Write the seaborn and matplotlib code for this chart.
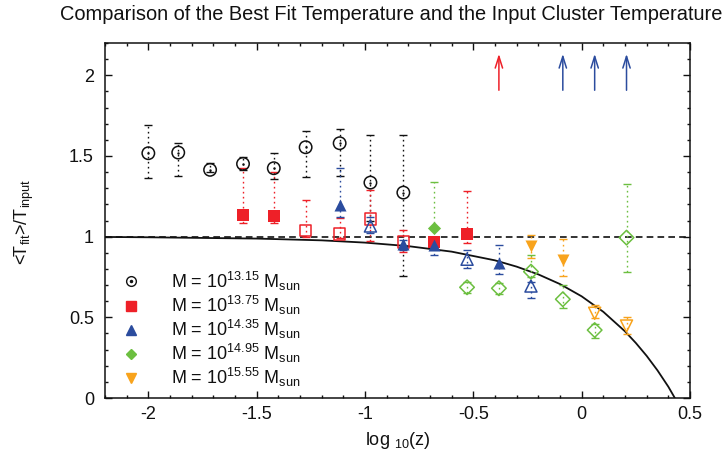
import numpy as np
import pandas as pd
import matplotlib
matplotlib.use("Agg")
import matplotlib.pyplot as plt
import seaborn as sns
from matplotlib.lines import Line2D
from matplotlib.ticker import MultipleLocator, FixedLocator, FixedFormatter

# ---------------- data ----------------
m1315_x = [-2.0, -1.862, -1.715, -1.563, -1.421, -1.274, -1.117, -0.975, -0.823]
m1315_y = [1.517, 1.521, 1.414, 1.451, 1.424, 1.554, 1.579, 1.335, 1.273]
m1315_lo = [1.366, 1.378, 1.400, 1.410, 1.355, 1.372, 1.376, 1.100, 0.755]
m1315_hi = [1.692, 1.579, 1.455, 1.496, 1.517, 1.657, 1.668, 1.632, 1.630]

m1375_x = [-1.563, -1.421, -1.274, -1.117, -0.975, -0.823, -0.680, -0.529]
m1375_y = [1.135, 1.128, 1.037, 1.018, 1.108, 0.965, 0.969, 1.015]
m1375_lo = [1.087, 1.087, 0.998, 0.990, 0.975, 0.907, 0.950, 0.960]
m1375_hi = [1.426, 1.400, 1.230, 1.118, 1.290, 1.040, 0.990, 1.285]
m1375_filled = [True, True, False, False, False, False, True, True]

m1435_x = [-1.117, -0.975, -0.823, -0.680, -0.529, -0.382, -0.234]
m1435_y = [1.196, 1.066, 0.955, 0.948, 0.860, 0.839, 0.694]
m1435_lo = [1.120, 1.025, 0.920, 0.887, 0.804, 0.769, 0.618]
m1435_hi = [1.428, 1.120, 0.980, 0.990, 0.918, 0.948, 0.720]
m1435_filled = [True, False, True, True, False, True, False]

m1495_x = [-0.680, -0.529, -0.382, -0.234, -0.087, 0.060, 0.207]
m1495_y = [1.052, 0.686, 0.680, 0.783, 0.612, 0.421, 0.994]
m1495_lo = [0.990, 0.653, 0.645, 0.752, 0.556, 0.370, 0.783]
m1495_hi = [1.341, 0.721, 0.711, 0.887, 0.700, 0.459, 1.327]
m1495_filled = [True, False, False, False, False, False, False]

m1555_x = [-0.234, -0.087, 0.060, 0.207]
m1555_y = [0.942, 0.855, 0.525, 0.446]
m1555_lo = [0.866, 0.756, 0.494, 0.397]
m1555_hi = [1.010, 0.984, 0.577, 0.504]
m1555_filled = [True, True, False, False]

# model curve
curve_x = [-2.2, -2.0, -1.5, -1.2, -1.0, -0.8, -0.6, -0.4, -0.3, -0.2, -0.1,
           0.0, 0.1, 0.2, 0.25, 0.3, 0.35, 0.4, 0.43]
curve_y = [0.998, 0.996, 0.988, 0.977, 0.963, 0.941, 0.907, 0.853, 0.814, 0.766, 0.706,
           0.630, 0.534, 0.413, 0.341, 0.261, 0.171, 0.070, 0.0]

red_arrow_x = [-0.382]
blue_arrow_x = [-0.087, 0.060, 0.207]
arrow_y0, arrow_y1 = 1.89, 2.15

legend_labels = [r"M = 10$^{13.15}$ M$_{\rm sun}$",
                 r"M = 10$^{13.75}$ M$_{\rm sun}$",
                 r"M = 10$^{14.35}$ M$_{\rm sun}$",
                 r"M = 10$^{14.95}$ M$_{\rm sun}$",
                 r"M = 10$^{15.55}$ M$_{\rm sun}$"]

xtick_vals = [-2, -1.5, -1, -0.5, 0, 0.5]
xtick_labels = ["-2", "-1.5", "-1", "-0.5", "0", "0.5"]
ytick_vals = [0, 0.5, 1, 1.5, 2]
ytick_labels = ["0", "0.5", "1", "1.5", "2"]

title = "Comparison of the Best Fit Temperature and the Input Cluster Temperature"

# ---------------- style ----------------
sns.set_theme(style="ticks")
plt.rcParams.update({
    "font.family": ["Liberation Sans", "DejaVu Sans"],
    "mathtext.fontset": "custom",
    "mathtext.rm": "Liberation Sans",
    "mathtext.it": "Liberation Sans:italic",
    "mathtext.bf": "Liberation Sans:bold",
    "mathtext.default": "regular",
    "axes.unicode_minus": False,
})

BLACK = "#111111"
RED = "#ee2028"
BLUE = "#2b4c9e"
GREEN = "#6cbf40"
ORANGE = "#f8a31c"

fig = plt.figure(figsize=(7.24, 4.65), dpi=100)
ax = fig.add_axes([105/724, 1-398/465, 585/724, 355/465])


def draw(x, y, lo, hi, filled, marker, color, size, open_size=None):
    x = np.asarray(x, float); y = np.asarray(y, float)
    lo = np.asarray(lo, float); hi = np.asarray(hi, float)
    filled = np.asarray(filled, bool)
    eb = ax.errorbar(x, y, yerr=[y - lo, hi - y], fmt="none", ecolor=color,
                     elinewidth=1.0, capsize=3, capthick=1.0, zorder=2)
    for lc in eb[2]:
        lc.set_linestyle((0, (1.2, 2.4)))
    df = pd.DataFrame({"x": x, "y": y, "filled": filled})
    if filled.any():
        sns.scatterplot(data=df[df["filled"]], x="x", y="y", marker=marker, color=color,
                        edgecolor=color, linewidth=0, s=size, ax=ax, legend=False, zorder=4)
    if (~filled).any():
        sns.scatterplot(data=df[~df["filled"]], x="x", y="y", marker=marker, color=color,
                        facecolor="none", edgecolor=color, linewidth=1.1,
                        s=open_size or size, ax=ax, legend=False, zorder=4)


# dashed reference line and model curve
ax.axhline(1.0, color=BLACK, lw=1.2, ls=(0, (4, 2.5)), zorder=1)
sns.lineplot(x=curve_x, y=curve_y, color=BLACK, lw=1.3, ax=ax, sort=False, zorder=1)

draw(m1315_x, m1315_y, m1315_lo, m1315_hi, [False]*len(m1315_x), "o", BLACK, 80)
sns.scatterplot(x=m1315_x, y=m1315_y, marker="o", color=BLACK, edgecolor=BLACK,
                linewidth=0, s=3, ax=ax, legend=False, zorder=5)
draw(m1375_x, m1375_y, m1375_lo, m1375_hi, m1375_filled, "s", RED, 70)
draw(m1435_x, m1435_y, m1435_lo, m1435_hi, m1435_filled, "^", BLUE, 75)
draw(m1495_x, m1495_y, m1495_lo, m1495_hi, m1495_filled, "D", GREEN, 45, 55)
draw(m1555_x, m1555_y, m1555_lo, m1555_hi, m1555_filled, "v", ORANGE, 75)

# arrows
for xa in red_arrow_x:
    ax.annotate("", xy=(xa, arrow_y1), xytext=(xa, arrow_y0),
                arrowprops=dict(arrowstyle="->,head_length=0.7,head_width=0.22",
                                color=RED, lw=1.1))
for xa in blue_arrow_x:
    ax.annotate("", xy=(xa, arrow_y1), xytext=(xa, arrow_y0),
                arrowprops=dict(arrowstyle="->,head_length=0.7,head_width=0.22",
                                color=BLUE, lw=1.1))

# axes
ax.set_xlim(-2.2, 0.5)
ax.set_ylim(0, 2.2)
ax.xaxis.set_major_locator(FixedLocator(xtick_vals))
ax.xaxis.set_major_formatter(FixedFormatter(xtick_labels))
ax.yaxis.set_major_locator(FixedLocator(ytick_vals))
ax.yaxis.set_major_formatter(FixedFormatter(ytick_labels))
ax.xaxis.set_minor_locator(MultipleLocator(0.1))
ax.yaxis.set_minor_locator(MultipleLocator(0.1))
ax.tick_params(which="both", direction="in", top=True, right=True, labelsize=13,
               color=BLACK, labelcolor=BLACK, width=1.0)
ax.tick_params(which="major", length=5)
ax.tick_params(axis="x", which="major", pad=6)
ax.tick_params(axis="y", which="major", pad=8)
ax.tick_params(which="minor", length=2.5)
for s in ax.spines.values():
    s.set_visible(True)
    s.set_linewidth(1.1)
    s.set_color(BLACK)

ax.set_xlabel(r"log $_{10}$(z)", fontsize=13, color=BLACK)
ax.set_ylabel(r"<T$_{\rm fit}$>/T$_{\rm input}$", fontsize=13, color=BLACK)
ax.xaxis.set_label_coords(0.5, -0.121)
ax.xaxis.label.set_va("center")
ax.yaxis.set_label_coords(-0.138, 0.496)
ax.yaxis.label.set_va("center")

fig.text(391.5/724, 1-15/465, title, ha="center", va="center", fontsize=14.4, color=BLACK)

# legend
h_circle = (Line2D([], [], marker="o", ls="none", mfc="none", mec=BLACK, mew=1.0, ms=7),
            Line2D([], [], marker="o", ls="none", mfc=BLACK, mec=BLACK, ms=1.5))
handles = [h_circle,
           Line2D([], [], marker="s", ls="none", color=RED, ms=7),
           Line2D([], [], marker="^", ls="none", color=BLUE, ms=6.5),
           Line2D([], [], marker="D", ls="none", color=GREEN, ms=5),
           Line2D([], [], marker="v", ls="none", color=ORANGE, ms=6.5)]
leg = ax.legend(handles, legend_labels, loc="upper left", bbox_to_anchor=(0.011, 0.387),
                frameon=False, fontsize=13, handlelength=1.2, handletextpad=1.6,
                labelspacing=0.06, borderpad=0.2, borderaxespad=0.3)
for t in leg.get_texts():
    t.set_color(BLACK)

fig.savefig("out.png", dpi=100)
